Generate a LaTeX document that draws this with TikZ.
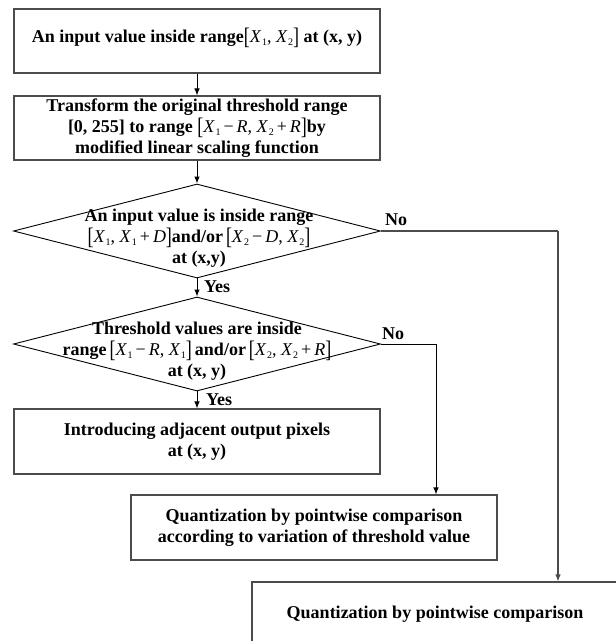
\documentclass[tikz,border=0pt]{standalone}
\usepackage{fontspec}
\setmainfont{Liberation Serif}
\usetikzlibrary{shapes.geometric,arrows.meta}
\newcommand{\vx}[1]{\textit{X}\kern0.03em\raisebox{-0.35ex}{\fontsize{10}{10}\selectfont #1}}
\newcommand{\mt}[1]{{\mdseries #1}}
\newcommand{\lb}{\raisebox{-0.28ex}{\scalebox{1}[1.32]{[}}}
\newcommand{\rb}{\raisebox{-0.28ex}{\scalebox{1}[1.32]{]}}}
\tikzset{
  txt/.style={font=\fontsize{18}{21}\selectfont\bfseries, align=center},
  box/.style={txt, draw=black!70, line width=1.1pt, minimum width=366pt, minimum height=64pt, inner sep=0pt},
  dia/.style={diamond, draw=black, line width=0.9pt, minimum width=367pt, minimum height=94pt, inner sep=0pt},
  line/.style={draw=black!70, line width=1.1pt},
  arr/.style={line, -{Latex[length=7pt,width=5.5pt]}},
  sarr/.style={draw=black, line width=1pt, -{Latex[length=7pt,width=5.5pt]}},
  lbl/.style={font=\fontsize{18}{20}\selectfont\bfseries, inner sep=0pt}
}
\begin{document}
\begin{tikzpicture}[x=1pt,y=-1pt]
\useasboundingbox (0,0) rectangle (616,641);
\clip (0,0) rectangle (616,641);
\node[box] (b1) at (197,41) {};
\node[txt] (t0) at (197,38) {An input value inside range\mt{\lb\vx1, \vx2\rb} at (x, y)};
\node[box] (b2) at (197,128) {Transform the original threshold range\\
{[}0, 255{]} to range \mt{\lb\vx1\,−\,\textit{R}, \vx2\,+\,\textit{R}\rb}by\\
modified linear scaling function};
\node[dia] (d1) at (197,231) {};
\node[txt] (t1) at (199,238) {An input value is inside range\\
\mt{\lb\vx1, \vx1\,+\,\textit{D}\rb}and/or\,\mt{\lb\vx2\,−\,\textit{D}, \vx2\rb}\\
at (x,y)};
\node[dia] (d2) at (197,344) {};
\node[txt] (t2) at (197,351) {Threshold values are inside\\
range\,\mt{\lb\vx1\,−\,\textit{R}, \vx1\rb}\,and/or\,\mt{\lb\vx2, \vx2\,+\,\textit{R}\rb}\\
at (x, y)};
\node[box, minimum height=65pt] (b3) at (197,441.5) {Introducing adjacent output pixels\\ at (x, y)};
\node[box, minimum height=65pt] (b4) at (314,527.5) {Quantization by pointwise comparison\\ according to variation of threshold value};
\node[box] (b5) at (435,614) {Quantization by pointwise comparison};
\coordinate (c1) at (558,231);
\coordinate (c2) at (436,344);
\draw[sarr] (b1.south) -- (b2.north);
\draw[sarr] (b2.south) -- (d1.north);
\draw[sarr] (d1.south) -- (d2.north);
\draw[sarr] (d2.south) -- (b3.north);
\draw[line] (d1.east) -- (c1);
\draw[arr] (c1) -- (c1 |- b5.north);
\draw[draw=black, line width=1pt] (d2.east) -- (c2);
\draw[sarr] (c2) -- (c2 |- b4.north);
\node[lbl, anchor=west] (y1) at (204,287) {Yes};
\node[lbl, anchor=west] (y2) at (206,400) {Yes};
\node[lbl, anchor=west] (n1) at (385,220) {No};
\node[lbl, anchor=west] (n2) at (382,334) {No};
\end{tikzpicture}
\end{document}
